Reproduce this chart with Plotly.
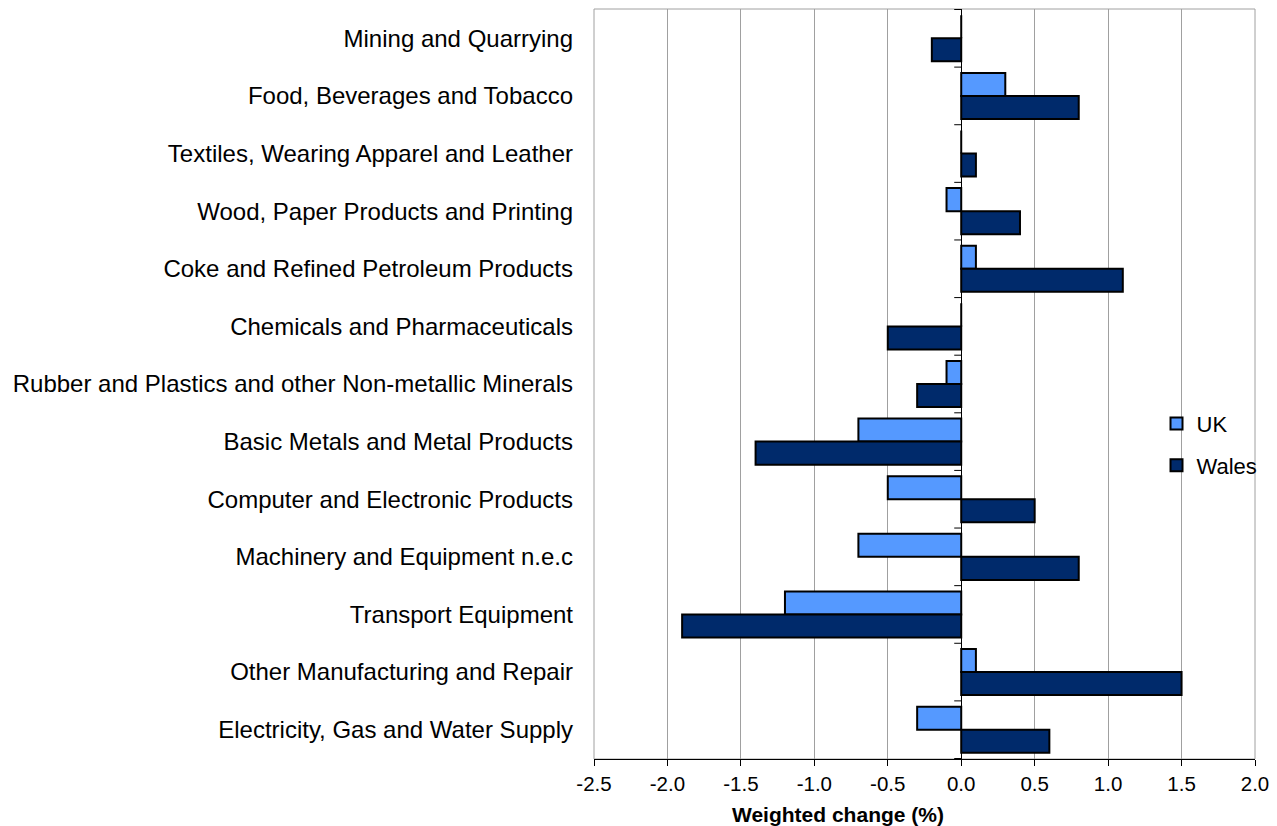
import plotly.graph_objects as go

categories = [
    "Mining and Quarrying",
    "Food, Beverages and Tobacco",
    "Textiles, Wearing Apparel and Leather",
    "Wood, Paper Products and Printing",
    "Coke and Refined Petroleum Products",
    "Chemicals and Pharmaceuticals",
    "Rubber and Plastics and other Non-metallic Minerals",
    "Basic Metals and Metal Products",
    "Computer and Electronic Products",
    "Machinery and Equipment n.e.c",
    "Transport Equipment",
    "Other Manufacturing and Repair",
    "Electricity, Gas and Water Supply",
]
uk = [0.0, 0.3, 0.0, -0.1, 0.1, 0.0, -0.1, -0.7, -0.5, -0.7, -1.2, 0.1, -0.3]
wales = [-0.2, 0.8, 0.1, 0.4, 1.1, -0.5, -0.3, -1.4, 0.5, 0.8, -1.9, 1.5, 0.6]
x_ticks = [-2.5, -2.0, -1.5, -1.0, -0.5, 0.0, 0.5, 1.0, 1.5, 2.0]

fig = go.Figure()
fig.add_trace(go.Bar(y=categories, x=uk, name="UK", orientation="h", legendgroup="a",
                     marker=dict(color="#5599FF", line=dict(color="black", width=2))))
fig.add_trace(go.Bar(y=categories, x=wales, name="Wales", orientation="h", legendgroup="b",
                     marker=dict(color="#002A6B", line=dict(color="black", width=2))))

# category separator ticks on the zero axis
shapes = []
for i in range(len(categories) + 1):
    shapes.append(dict(type="line", xref="x", yref="y", xsizemode="pixel", xanchor=0,
                       x0=-7, x1=0, y0=i - 0.5, y1=i - 0.5,
                       line=dict(color="black", width=1)))
shapes.append(dict(type="rect", xref="paper", yref="paper", x0=0, x1=1, y0=0, y1=1,
                   line=dict(color="#A0A0A0", width=1), layer="below"))

fig.update_layout(
    width=1277, height=826,
    margin=dict(l=586, r=30, t=1, b=75, autoexpand=False),
    paper_bgcolor="white", plot_bgcolor="white",
    barmode="group", bargap=0.2, bargroupgap=0,
    font=dict(family="Liberation Sans, Arial, sans-serif", color="black"),
    shapes=shapes,
    legend=dict(x=0.851, y=0.419, xanchor="left", yanchor="middle",
                font=dict(size=22), bgcolor="rgba(0,0,0,0)",
                traceorder="grouped", tracegroupgap=10, itemwidth=30),
    showlegend=True,
    annotations=[dict(text="<b>Weighted change (%)</b>", xref="paper", yref="paper",
                      x=0.3686, y=0, yshift=-55, xanchor="center", yanchor="middle",
                      showarrow=False, font=dict(size=21))],
)
fig.update_xaxes(range=[-2.5, 2.0], tickvals=x_ticks,
                 ticktext=[f"{v:.1f}" for v in x_ticks],
                 showgrid=True, gridcolor="#A0A0A0", gridwidth=1,
                 zeroline=True, zerolinecolor="black", zerolinewidth=1,
                 showline=True, linecolor="black", linewidth=1,
                 ticks="outside", ticklen=6, tickcolor="black",
                 tickfont=dict(size=20.5), automargin=False)
fig.update_yaxes(autorange="reversed", showgrid=False, zeroline=False, showline=False,
                 ticks="", tickfont=dict(size=24), ticklabelstandoff=20, automargin=False)

fig.write_html("out.html")
